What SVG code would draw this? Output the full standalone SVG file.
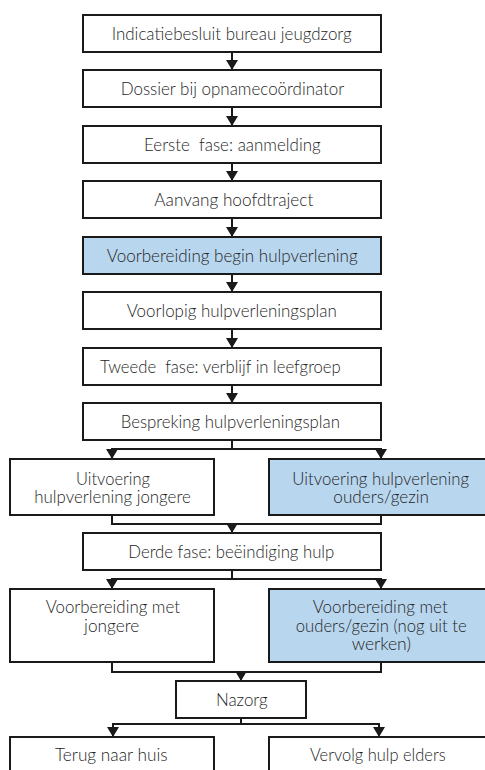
<svg xmlns="http://www.w3.org/2000/svg" width="485" height="770" viewBox="0 0 485 770">
<style>
.box{fill:#ffffff;stroke:#1a1a1a;stroke-width:2}
.blue{fill:#b9d6ef}
.t{font-family:Lato,"Open Sans","Liberation Sans",sans-serif;font-weight:300;font-size:18.5px;fill:#262626;text-anchor:middle}
.c{fill:none;stroke:#1a1a1a;stroke-width:2}
</style>
<defs>
<marker id="ah" viewBox="0 0 10 12" refX="10" refY="6" markerWidth="10" markerHeight="12" markerUnits="userSpaceOnUse" orient="auto">
<path d="M0,0 L10,6 L0,12 z" fill="#1a1a1a"/>
</marker>
</defs>
<rect width="485" height="770" fill="#ffffff"/>
<g id="connectors">
<path class="c" d="M232,52 V70" marker-end="url(#ah)"/>
<path class="c" d="M232,107 V126" marker-end="url(#ah)"/>
<path class="c" d="M232,163 V181" marker-end="url(#ah)"/>
<path class="c" d="M232,218 V237" marker-end="url(#ah)"/>
<path class="c" d="M232,274 V292" marker-end="url(#ah)"/>
<path class="c" d="M232,329 V348" marker-end="url(#ah)"/>
<path class="c" d="M232,385 V403" marker-end="url(#ah)"/>
<path class="c" d="M232,440 V449 M111,449 H382"/>
<path class="c" d="M112,449 V459" marker-end="url(#ah)"/>
<path class="c" d="M381,449 V459" marker-end="url(#ah)"/>
<path class="c" d="M112,515 V524 H381 V515"/>
<path class="c" d="M232,524 V533" marker-end="url(#ah)"/>
<path class="c" d="M232,570 V579 M111,579 H382"/>
<path class="c" d="M112,579 V589" marker-end="url(#ah)"/>
<path class="c" d="M381,579 V589" marker-end="url(#ah)"/>
<path class="c" d="M112,662 V672 H381 V662"/>
<path class="c" d="M241,672 V681" marker-end="url(#ah)"/>
<path class="c" d="M241,718 V724 M112,724 H380"/>
<path class="c" d="M113,724 V737" marker-end="url(#ah)"/>
<path class="c" d="M379,724 V737" marker-end="url(#ah)"/>
</g>
<g id="n1"><rect class="box" x="83" y="15" width="298" height="37"/><text class="t" x="231.7" y="40" textLength="240" lengthAdjust="spacingAndGlyphs">Indicatiebesluit bureau jeugdzorg</text></g>
<g id="n2"><rect class="box" x="83" y="70" width="298" height="37"/><text class="t" x="232.5" y="95" textLength="223.6" lengthAdjust="spacingAndGlyphs">Dossier bij opnamecoördinator</text></g>
<g id="n3"><rect class="box" x="83" y="126" width="298" height="37"/><text class="t" x="232.3" y="151" textLength="176.7" lengthAdjust="spacingAndGlyphs" xml:space="preserve">Eerste  fase: aanmelding</text></g>
<g id="n4"><rect class="box" x="83" y="181" width="298" height="37"/><text class="t" x="233.8" y="206" textLength="159" lengthAdjust="spacingAndGlyphs">Aanvang hoofdtraject</text></g>
<g id="n5"><rect class="box blue" x="83" y="237" width="298" height="37"/><text class="t" x="232.2" y="262" textLength="251" lengthAdjust="spacingAndGlyphs">Voorbereiding begin hulpverlening</text></g>
<g id="n6"><rect class="box" x="83" y="292" width="298" height="37"/><text class="t" x="231.7" y="317" textLength="210" lengthAdjust="spacingAndGlyphs">Voorlopig hulpverleningsplan</text></g>
<g id="n7"><rect class="box" x="83" y="348" width="298" height="37"/><text class="t" x="220.4" y="373" textLength="240.7" lengthAdjust="spacingAndGlyphs" xml:space="preserve">Tweede  fase: verblijf in leefgroep</text></g>
<g id="n8"><rect class="box" x="83" y="403" width="298" height="37"/><text class="t" x="230.3" y="428" textLength="219.3" lengthAdjust="spacingAndGlyphs">Bespreking hulpverleningsplan</text></g>
<g id="n9"><rect class="box" x="10" y="459" width="204" height="56"/><text class="t" x="113" y="485" textLength="74" lengthAdjust="spacingAndGlyphs">Uitvoering</text><text class="t" x="112.5" y="503.3" textLength="156.4" lengthAdjust="spacingAndGlyphs">hulpverlening jongere</text></g>
<g id="n10"><rect class="box blue" x="269" y="459" width="224" height="56"/><text class="t" x="380.7" y="485" textLength="176.7" lengthAdjust="spacingAndGlyphs">Uitvoering hulpverlening</text><text class="t" x="381.2" y="503.3" textLength="95.7" lengthAdjust="spacingAndGlyphs">ouders/gezin</text></g>
<g id="n11"><rect class="box" x="83" y="533" width="298" height="37"/><text class="t" x="231.3" y="558" textLength="206" lengthAdjust="spacingAndGlyphs">Derde fase: beëindiging hulp</text></g>
<g id="n12"><rect class="box" x="10" y="589" width="204" height="73"/><text class="t" x="112.8" y="613.3" textLength="134.3" lengthAdjust="spacingAndGlyphs">Voorbereiding met</text><text class="t" x="111.7" y="631.7" textLength="55.3" lengthAdjust="spacingAndGlyphs">jongere</text></g>
<g id="n13"><rect class="box blue" x="269" y="589" width="224" height="73"/><text class="t" x="380.2" y="613.3" textLength="135" lengthAdjust="spacingAndGlyphs">Voorbereiding met</text><text class="t" x="381.2" y="631.7" textLength="171" lengthAdjust="spacingAndGlyphs">ouders/gezin (nog uit te</text><text class="t" x="381.3" y="650" textLength="59.3" lengthAdjust="spacingAndGlyphs">werken)</text></g>
<g id="n14"><rect class="box" x="176" y="681" width="130" height="37"/><text class="t" x="241.8" y="706" textLength="51.7" lengthAdjust="spacingAndGlyphs">Nazorg</text></g>
<g id="n15"><rect class="box" x="10" y="737" width="204" height="60"/><text class="t" x="111.3" y="761" textLength="112.7" lengthAdjust="spacingAndGlyphs">Terug naar huis</text></g>
<g id="n16"><rect class="box" x="269" y="737" width="224" height="60"/><text class="t" x="377.8" y="761" textLength="135.7" lengthAdjust="spacingAndGlyphs">Vervolg hulp elders</text></g>
</svg>
